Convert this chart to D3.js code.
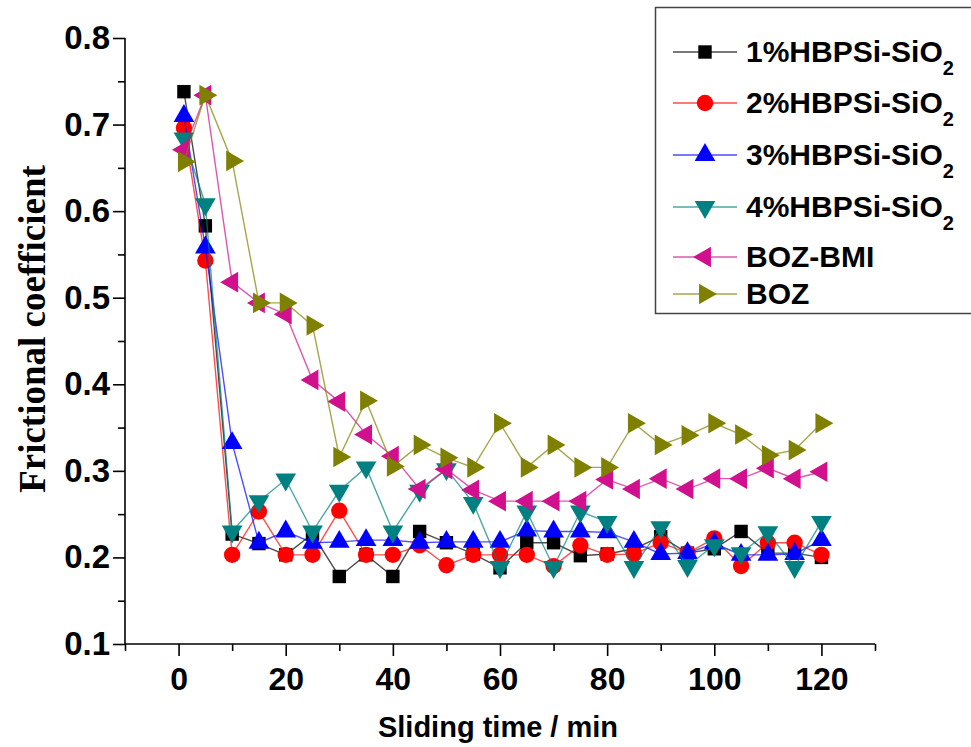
<!DOCTYPE html>
<html>
<head>
<meta charset="utf-8">
<script src="https://cdn.jsdelivr.net/npm/d3@7"></script>
<style>
  body { margin: 0; background: #fff; }
  svg { display: block; }
  .tick text { font-family: "Liberation Sans", Arial, sans-serif; font-weight: bold; }
</style>
</head>
<body>
<svg width="971" height="747"></svg>
<script>
// sliding time (min)
var times = [1, 5, 10, 15, 20, 25, 30, 35, 40, 45, 50, 55, 60, 65, 70, 75, 80, 85, 90, 95, 100, 105, 110, 115, 120];

var hbpsi1 = [0.738, 0.583, 0.227, 0.216, 0.203, 0.227, 0.178, 0.203, 0.178, 0.230, 0.217, 0.204, 0.188, 0.217, 0.217, 0.202, 0.204, 0.210, 0.224, 0.205, 0.210, 0.230, 0.205, 0.205, 0.200];
var hbpsi2 = [0.696, 0.543, 0.203, 0.253, 0.203, 0.203, 0.254, 0.203, 0.203, 0.214, 0.191, 0.203, 0.203, 0.203, 0.190, 0.214, 0.203, 0.204, 0.217, 0.205, 0.222, 0.190, 0.217, 0.217, 0.203];
var hbpsi3 = [0.710, 0.558, 0.332, 0.217, 0.230, 0.217, 0.218, 0.220, 0.220, 0.217, 0.218, 0.218, 0.218, 0.231, 0.230, 0.230, 0.229, 0.218, 0.204, 0.205, 0.216, 0.203, 0.203, 0.204, 0.220];
var hbpsi4 = [0.684, 0.608, 0.230, 0.265, 0.290, 0.230, 0.277, 0.304, 0.230, 0.277, 0.302, 0.263, 0.189, 0.253, 0.189, 0.253, 0.241, 0.189, 0.235, 0.190, 0.214, 0.205, 0.229, 0.189, 0.241];
var bozBmi = [0.671, 0.734, 0.518, 0.494, 0.481, 0.405, 0.380, 0.342, 0.317, 0.279, 0.302, 0.278, 0.265, 0.265, 0.265, 0.265, 0.290, 0.279, 0.291, 0.279, 0.291, 0.291, 0.303, 0.291, 0.299];
var boz = [0.657, 0.734, 0.658, 0.494, 0.494, 0.468, 0.316, 0.381, 0.305, 0.330, 0.315, 0.304, 0.355, 0.304, 0.330, 0.304, 0.304, 0.355, 0.330, 0.341, 0.355, 0.342, 0.318, 0.324, 0.355];

var seriesNames = ["1%HBPSi-SiO", "2%HBPSi-SiO", "3%HBPSi-SiO", "4%HBPSi-SiO", "BOZ-BMI", "BOZ"];
var seriesSub = ["2", "2", "2", "2", "", ""];
var seriesValues = [hbpsi1, hbpsi2, hbpsi3, hbpsi4, bozBmi, boz];
var seriesColors = ["#000000", "#ff0000", "#0000ff", "#008080", "#d0108c", "#808000"];

var xTicks = [0, 20, 40, 60, 80, 100, 120];
var yTicks = [0.1, 0.2, 0.3, 0.4, 0.5, 0.6, 0.7, 0.8];

var svg = d3.select("svg");

var x = d3.scaleLinear().domain([-10, 130]).range([125, 875]);
var y = d3.scaleLinear().domain([0.1, 0.8]).range([644, 38]);

// marker shapes: square, circle, up, down, left, right
var shapes = [
  { type: d3.symbolSquare, size: 180, rot: 0 },
  { type: d3.symbolCircle, size: 210, rot: 0 },
  { type: d3.symbolTriangle, size: 185, rot: 0 },
  { type: d3.symbolTriangle, size: 185, rot: 180 },
  { type: d3.symbolTriangle, size: 185, rot: -90 },
  { type: d3.symbolTriangle, size: 185, rot: 90 }
];

// axes
var xAxis = svg.append("g")
    .attr("transform", "translate(0," + y(0.1) + ")")
    .call(d3.axisBottom(x).tickValues(d3.range(-10, 131, 10)).tickSize(7).tickFormat(""));
xAxis.selectAll(".tick line").attr("y2", function(d) { return d % 20 == 0 ? 12 : 7; });
xAxis.select(".domain").attr("d", "M" + x(-10) + ",0H" + x(130));

var xLab = svg.append("g")
    .attr("transform", "translate(0," + y(0.1) + ")")
    .call(d3.axisBottom(x).tickValues(xTicks).tickSize(0).tickPadding(23));
xLab.select(".domain").remove();
xLab.selectAll("text")
    .attr("font-size", 32)
    .attr("fill", "#000");

var yAxis = svg.append("g")
    .attr("transform", "translate(" + x(-10) + ",0)")
    .call(d3.axisLeft(y).tickValues(d3.range(0.1, 0.801, 0.05)).tickSize(8)
      .tickFormat(function(d) { return Math.round(d * 100) % 10 == 0 ? d3.format(".1f")(d) : ""; }));
yAxis.selectAll(".tick line").attr("x2", function(d) { return Math.round(d * 100) % 10 == 0 ? -12 : -7; });
yAxis.select(".domain").attr("d", "M0," + y(0.8) + "V" + y(0.1));
yAxis.selectAll("text")
    .attr("x", -15)
    .attr("font-size", 33)
    .attr("fill", "#000");

svg.selectAll(".domain, .tick line").attr("stroke", "#000").attr("stroke-width", 1.6);

svg.append("text")
    .attr("transform", "translate(45,329) rotate(-90)")
    .attr("text-anchor", "middle")
    .attr("font-family", "'Liberation Serif', 'Times New Roman', serif")
    .attr("font-weight", "bold")
    .attr("font-size", 37)
    .text("Frictional coefficient");

svg.append("text")
    .attr("x", 498)
    .attr("y", 737)
    .attr("text-anchor", "middle")
    .attr("font-family", "'Liberation Sans', Arial, sans-serif")
    .attr("font-weight", "bold")
    .attr("font-size", 29)
    .text("Sliding time / min");

// series
var line = d3.line()
    .x(function(d, i) { return x(times[i]); })
    .y(function(d) { return y(d); });

seriesValues.forEach(function(vals, k) {
  var g = svg.append("g");
  g.append("path")
      .datum(vals)
      .attr("fill", "none")
      .attr("stroke", seriesColors[k])
      .attr("stroke-opacity", 0.7)
      .attr("stroke-width", 1.4)
      .attr("d", line);
  g.selectAll("path.pt")
    .data(vals)
    .enter().append("path")
      .attr("class", "pt")
      .attr("d", d3.symbol().type(shapes[k].type).size(shapes[k].size))
      .attr("transform", function(d, i) {
        return "translate(" + x(times[i]) + "," + y(d) + ") rotate(" + shapes[k].rot + ")";
      })
      .attr("fill", seriesColors[k]);
});

// legend
var legend = svg.append("g");
legend.append("rect")
    .attr("x", 655.5)
    .attr("y", 7.5)
    .attr("width", 330)
    .attr("height", 306)
    .attr("fill", "#fff")
    .attr("stroke", "#444")
    .attr("stroke-width", 1.5);

var rowY = [52, 103, 155, 207, 257, 294];
seriesNames.forEach(function(name, k) {
  var row = legend.append("g").attr("transform", "translate(0," + rowY[k] + ")");
  row.append("line")
      .attr("x1", 673).attr("x2", 737)
      .attr("stroke", seriesColors[k])
      .attr("stroke-opacity", 0.7)
      .attr("stroke-width", 1.4);
  row.append("path")
      .attr("d", d3.symbol().type(shapes[k].type).size(shapes[k].size))
      .attr("transform", "translate(705,0) rotate(" + shapes[k].rot + ")")
      .attr("fill", seriesColors[k]);
  var t = row.append("text")
      .attr("x", 746)
      .attr("y", 10)
      .attr("font-family", "'Liberation Sans', Arial, sans-serif")
      .attr("font-weight", "bold")
      .attr("font-size", 30)
      .text(name);
  if (seriesSub[k]) {
    t.append("tspan")
        .attr("dy", 13)
        .attr("font-size", 20)
        .text(seriesSub[k]);
  }
});
</script>
</body>
</html>
